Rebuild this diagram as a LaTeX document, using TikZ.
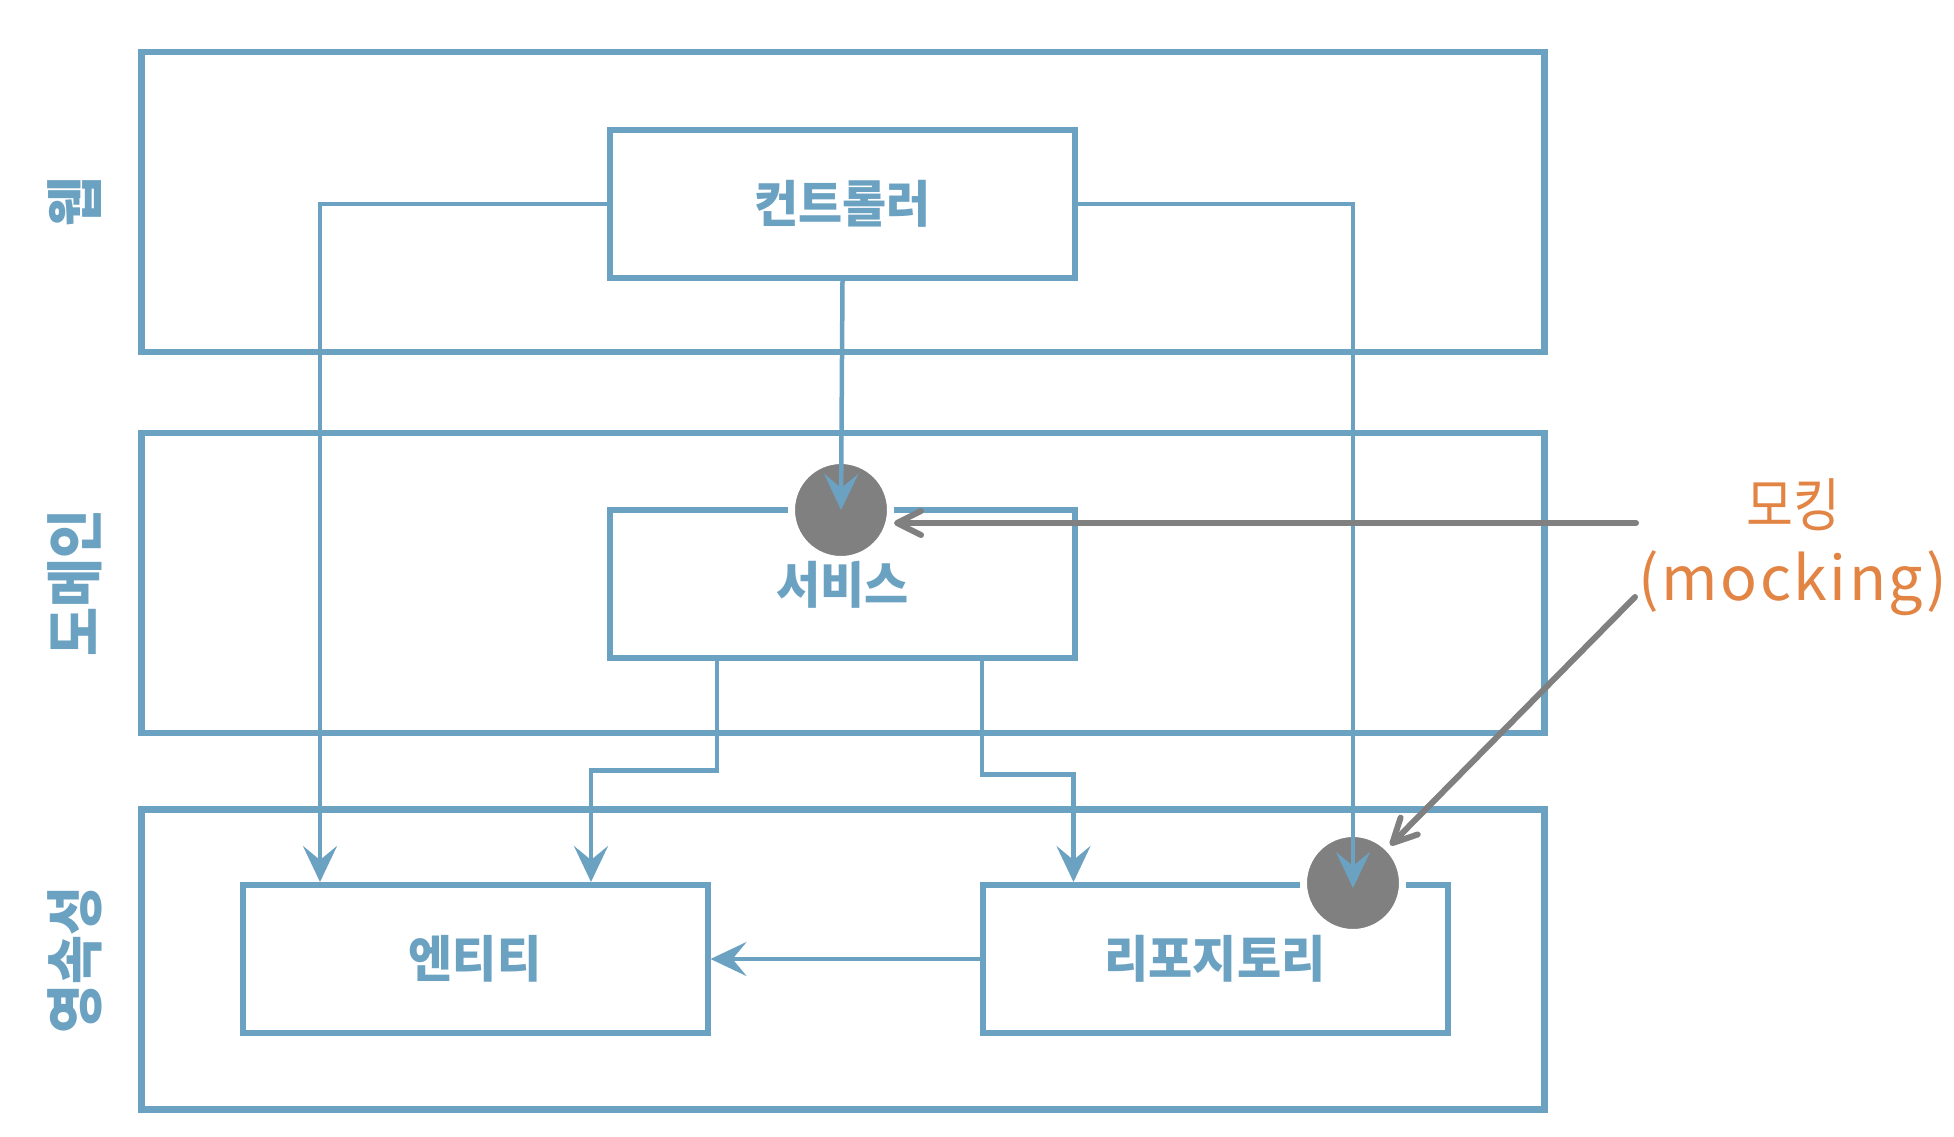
\documentclass[tikz,border=0pt]{standalone}
\usepackage{fontspec}
\usetikzlibrary{arrows.meta,calc}
\newfontfamily\krfont[FakeStretch=0.96]{Noto Sans CJK KR}
\newfontfamily\krside[FakeStretch=0.92]{Noto Sans CJK KR}
\newfontfamily\krmock[FakeStretch=0.88]{Noto Sans CJK KR}
\newfontfamily\latmock[LetterSpace=4]{Noto Sans CJK KR}
\newcommand\boxtxt[1]{\raisebox{-2.5pt}{#1}}
\definecolor{lblue}{HTML}{6CA2C1}
\definecolor{mgray}{HTML}{808080}
\definecolor{morange}{HTML}{E28444}
\begin{document}
\begin{tikzpicture}[x=0.5pt,y=-0.5pt,
  layer/.style={draw=lblue,line width=3.3pt,minimum width=701.25pt,minimum height=150pt,inner sep=0pt},
  comp/.style={draw=lblue,line width=3pt,minimum width=232.5pt,minimum height=74pt,inner sep=0pt,
    font=\krfont\bfseries\fontsize{25}{30}\selectfont,text=lblue},
  side/.style={rotate=90,inner sep=0pt,font=\krside\bfseries\fontsize{29}{34}\selectfont,text=lblue},
  mockc/.style={circle,fill=mgray,draw=white,line width=3.5pt,minimum size=49.5pt,inner sep=0pt},
  conn/.style={draw=lblue,line width=2.25pt,-{Stealth[length=18pt,width=17pt,inset=7pt]}},
  mockarr/.style={draw=mgray,line width=3pt,line cap=round,-{Straight Barb[length=12pt,width=12pt,round]}},
  lbl/.style={text=morange,inner sep=0pt}
]
\useasboundingbox (0,0) rectangle (1954,1136);
% layers
\node[layer] (web) at (843,202) {};
\node[layer] (dom) at (843,583) {};
\node[layer] (per) at (843,959.3) {};
\node[side] (tweb) at (75,202) {웹};
\node[side] (tdom) at (75,583) {도메인};
\node[side] (tper) at (75,960) {영속성};
% components
\node[comp] (ctrl) at (842.5,204) {\boxtxt{컨트롤러}};
\node[comp] (srv) at (842.5,584.3) {\boxtxt{서비스}};
\node[comp] (ent) at (475,959) {\boxtxt{엔티티}};
\node[comp] (repo) at (1215,959) {\boxtxt{리포지토리}};
% mocking circles
\node[mockc] (scirc) at (841,510) {};
\node[mockc] (rcirc) at (1353,883) {};
% connectors
\draw[conn] (ctrl.west) -| ([xshift=40.25pt]ent.north west);
\draw[conn] (ctrl.east) -| ([yshift=-2.5pt]rcirc.center);
\draw[conn] (ctrl.south) -- (scirc.center);
\draw[conn] ([xshift=55pt]srv.south west) -- ++(0,109) -| ([xshift=175.75pt]ent.north west);
\draw[conn] ([xshift=187.5pt]srv.south west) -- ++(0,113) -| ([xshift=47pt]repo.north west);
\draw[conn] (repo.west) -- (ent.east);
% mocking labels and arrows
\node[lbl,font=\krmock\fontsize{29}{34}\selectfont] (mk1) at (1793,505) {모킹};
\node[lbl,font=\latmock\fontsize{30.5}{36}\selectfont] (mk2) at (1793,583) {(mocking)};
\coordinate (m1) at (1636,523);
\coordinate (m2) at (1635,597);
\draw[mockarr] (m1) -- (m1 -| scirc.east);
\draw[mockarr] (m2) -- (rcirc);
\end{tikzpicture}
\end{document}
